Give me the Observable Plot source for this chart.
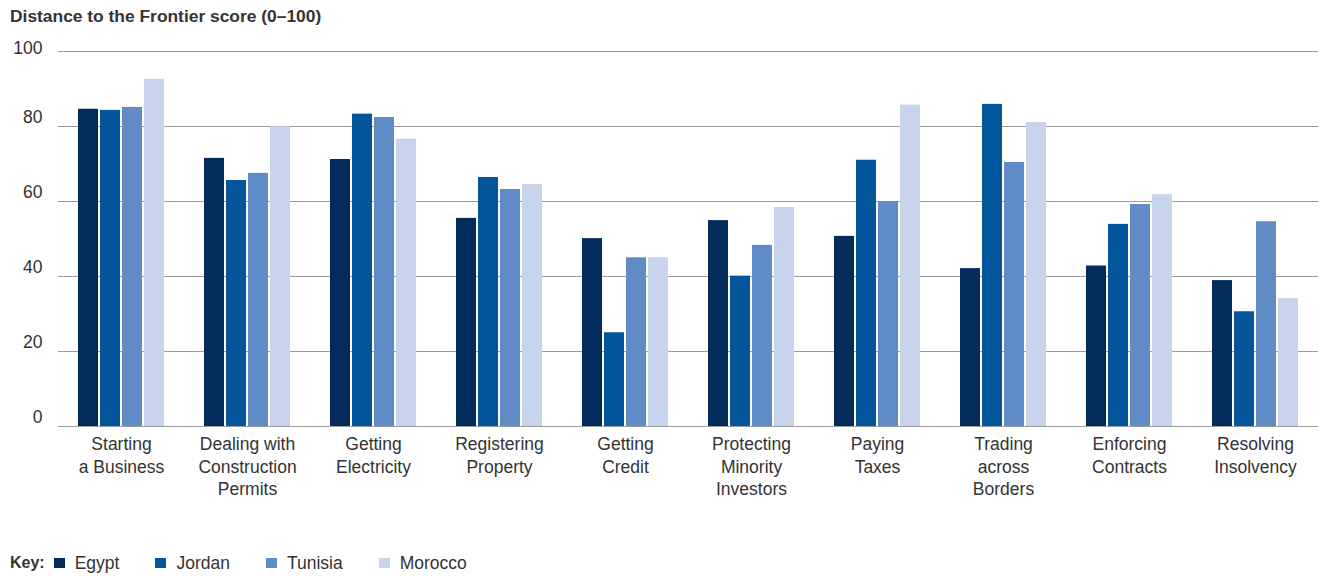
<!DOCTYPE html>
<html>
<head>
<meta charset="utf-8">
<script src="https://cdn.jsdelivr.net/npm/d3@7"></script>
<script src="https://cdn.jsdelivr.net/npm/@observablehq/plot@0.6"></script>
<style>
  body { margin: 0; background: #fff; width: 1319px; height: 576px; position: relative; overflow: hidden; color: #333;
         font-family: "Liberation Sans", Arial, sans-serif; }
  #title { position: absolute; left: 10px; top: 6px; font: bold 17.4px "Liberation Sans", Arial, sans-serif; line-height: 20px; color: #333; white-space: nowrap; }
  #chart { position: absolute; left: 0; top: 30px; }
  #legend { position: absolute; left: 10px; top: 553px; display: flex; align-items: center; font-size: 17.5px; line-height: 20px; white-space: nowrap; }
  #legend .key { font-weight: bold; font-size: 16px; margin-right: 9px; }
  #legend .item { display: flex; align-items: center; margin-right: 36px; }
  #legend .sw { width: 11px; height: 10px; margin-right: 10px; }
</style>
</head>
<body>
<div id="title">Distance to the Frontier score (0–100)</div>
<div id="chart"></div>
<div id="legend"></div>
<script>
const categories = ["Starting a Business", "Dealing with Construction Permits", "Getting Electricity", "Registering Property",
  "Getting Credit", "Protecting Minority Investors", "Paying Taxes", "Trading across Borders", "Enforcing Contracts", "Resolving Insolvency"];
const tickLabels = ["Starting\na Business", "Dealing with\nConstruction\nPermits", "Getting\nElectricity", "Registering\nProperty",
  "Getting\nCredit", "Protecting\nMinority\nInvestors", "Paying\nTaxes", "Trading\nacross\nBorders", "Enforcing\nContracts", "Resolving\nInsolvency"];
const countries = ["Egypt", "Jordan", "Tunisia", "Morocco"];
const colors = ["#032b5c", "#03559c", "#5f8bc7", "#c7d4ec"];
const egypt   = [84.6, 71.5, 71.2, 55.5, 50.1, 54.9, 50.7, 42.1, 42.8, 38.9];
const jordan  = [84.3, 65.6, 83.3, 66.4, 25.0, 40.1, 71.0, 85.9, 53.9, 30.6];
const tunisia = [85.1, 67.5, 82.4, 63.2, 45.0, 48.3, 60.0, 70.4, 59.2, 54.6];
const morocco = [92.6, 79.9, 76.6, 64.5, 45.0, 58.4, 85.7, 81.1, 61.8, 34.1];
const yTicks = [0, 20, 40, 60, 80, 100];

const series = [egypt, jordan, tunisia, morocco];
const data = categories.flatMap((c, i) => countries.map((k, j) => ({category: c, country: k, value: series[j][i]})));
const labelOf = new Map(categories.map((c, i) => [c, tickLabels[i]]));

const chart = Plot.plot({
  width: 1319,
  height: 480,
  marginLeft: 57,
  marginRight: 0,
  marginTop: 21,
  marginBottom: 84,
  style: {fontFamily: "'Liberation Sans', Arial, sans-serif", fontSize: "17.5px", color: "#333", background: "#fff"},
  fx: {domain: categories, padding: 0},
  x: {domain: countries, paddingInner: 0.0909, paddingOuter: 0.909, axis: null},
  y: {domain: [0, 100]},
  color: {domain: countries, range: colors},
  marks: [
    Plot.ruleY(yTicks, {stroke: "#9d9d9d", strokeWidth: 1}),
    Plot.barY(data, {fx: "category", x: "country", y: "value", fill: "country"}),
    Plot.axisY(yTicks.filter(d => d < 100), {tickSize: 0, tickPadding: 16, dy: -9.5, label: null, fontSize: 17.5, fill: "#333"}),
    Plot.axisY([100], {tickSize: 0, tickPadding: 16, dy: -3, label: null, fontSize: 17.5, fill: "#333"}),
    Plot.axisFx({anchor: "bottom", tickSize: 0, tickPadding: 7.5, label: null, tickFormat: d => labelOf.get(d),
      lineHeight: 1.29, fontSize: 17.5, fill: "#333"})
  ]
});
document.getElementById("chart").appendChild(chart);

const legend = document.getElementById("legend");
const key = document.createElement("span");
key.className = "key";
key.textContent = "Key:";
legend.appendChild(key);
countries.forEach((c, i) => {
  const item = document.createElement("span");
  item.className = "item";
  const sw = document.createElement("span");
  sw.className = "sw";
  sw.style.background = colors[i];
  const t = document.createElement("span");
  t.textContent = c;
  item.appendChild(sw);
  item.appendChild(t);
  legend.appendChild(item);
});
</script>
</body>
</html>
